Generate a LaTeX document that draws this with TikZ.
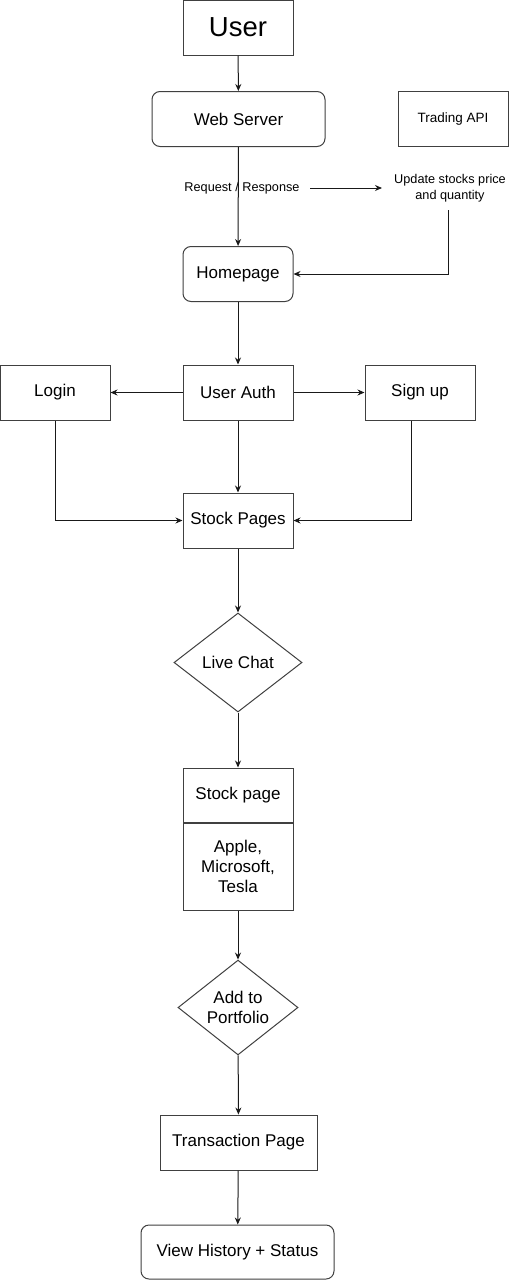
\documentclass[tikz,border=0pt]{standalone}
\usepackage{fontspec}
\setmainfont{Liberation Sans}
\usetikzlibrary{shapes.geometric,arrows.meta}
\begin{document}
\begin{tikzpicture}[x=1pt,y=-1pt,
  box/.style={draw=black!75,line width=1pt,minimum width=110pt,minimum height=55pt,inner sep=2pt,font=\fontsize{17}{20}\selectfont,align=center},
  rbox/.style={box,rounded corners=8pt},
  dia/.style={draw=black!75,line width=1pt,diamond,inner sep=0pt,font=\fontsize{17}{20}\selectfont,align=center},
  arr/.style={draw=black!90,line width=1pt,-{Stealth[length=7pt,width=6pt]}},
  ln/.style={draw=black!90,line width=1pt}]
\useasboundingbox (0,0) rectangle (522,1280);
\fill[white] (0,0) rectangle (522,1280);
\node[box,font=\fontsize{27.5}{32}\selectfont] (user) at (238,27.5) {User};
\node[rbox,minimum width=173pt] (web) at (238.5,119) {Web Server};
\node[box,font=\fontsize{13.5}{16}\selectfont] (api) at (453,119) {Trading API};
\node[font=\fontsize{12.7}{15}\selectfont] (req) at (242,188) {Request / Response};
\node[font=\fontsize{12.7}{16}\selectfont,align=center] (upd) at (450,188) {Update stocks price\\and quantity};
\node[rbox] (home) at (238,274) {Homepage};
\node[box] (auth) at (238,392.5) {User Auth};
\node[box] (login) at (55,392.5) {Login};
\node[box] (sign) at (420,392.5) {Sign up};
\node[box] (stock) at (238,520.5) {Stock Pages};
\node[dia,minimum width=128pt,minimum height=99pt] (chat) at (238,662.5) {Live Chat};
\node[box,minimum height=54pt] (sp) at (238,795) {Stock page};
\node[box,minimum height=87pt,anchor=north] (spb) at (sp.south) {Apple,\\Microsoft,\\Tesla};
\node[dia,minimum width=120pt,minimum height=91pt] (port) at (238,1007.5) {Add to\\Portfolio};
\node[box,minimum width=157pt] (trans) at (238.5,1142.5) {Transaction Page};
\node[rbox,minimum width=193pt,minimum height=54pt] (hist) at (237.5,1252) {View History + Status};
\coordinate (reqe) at (310,188);
\coordinate (upde) at (382,188);
\coordinate (updb) at (448,210);
\draw[arr] (user) -- (web);
\draw[arr] (web) -- (home);
\draw[arr] (reqe) -- (upde);
\draw[arr] (updb) |- (home.east);
\draw[arr] (home) -- (auth);
\draw[arr] (auth) -- (login);
\draw[arr] (auth) -- (sign);
\draw[arr] (auth) -- (stock);
\draw[arr] (login.south) |- (stock.west);
\draw[arr] (sign.south -| 411,0) |- (stock.east);
\draw[arr] (stock) -- (chat);
\draw[arr] (chat) -- (sp);
\draw[arr] (spb) -- (port);
\draw[arr] (port) -- (trans);
\draw[arr] (trans) -- (hist);
\end{tikzpicture}
\end{document}
